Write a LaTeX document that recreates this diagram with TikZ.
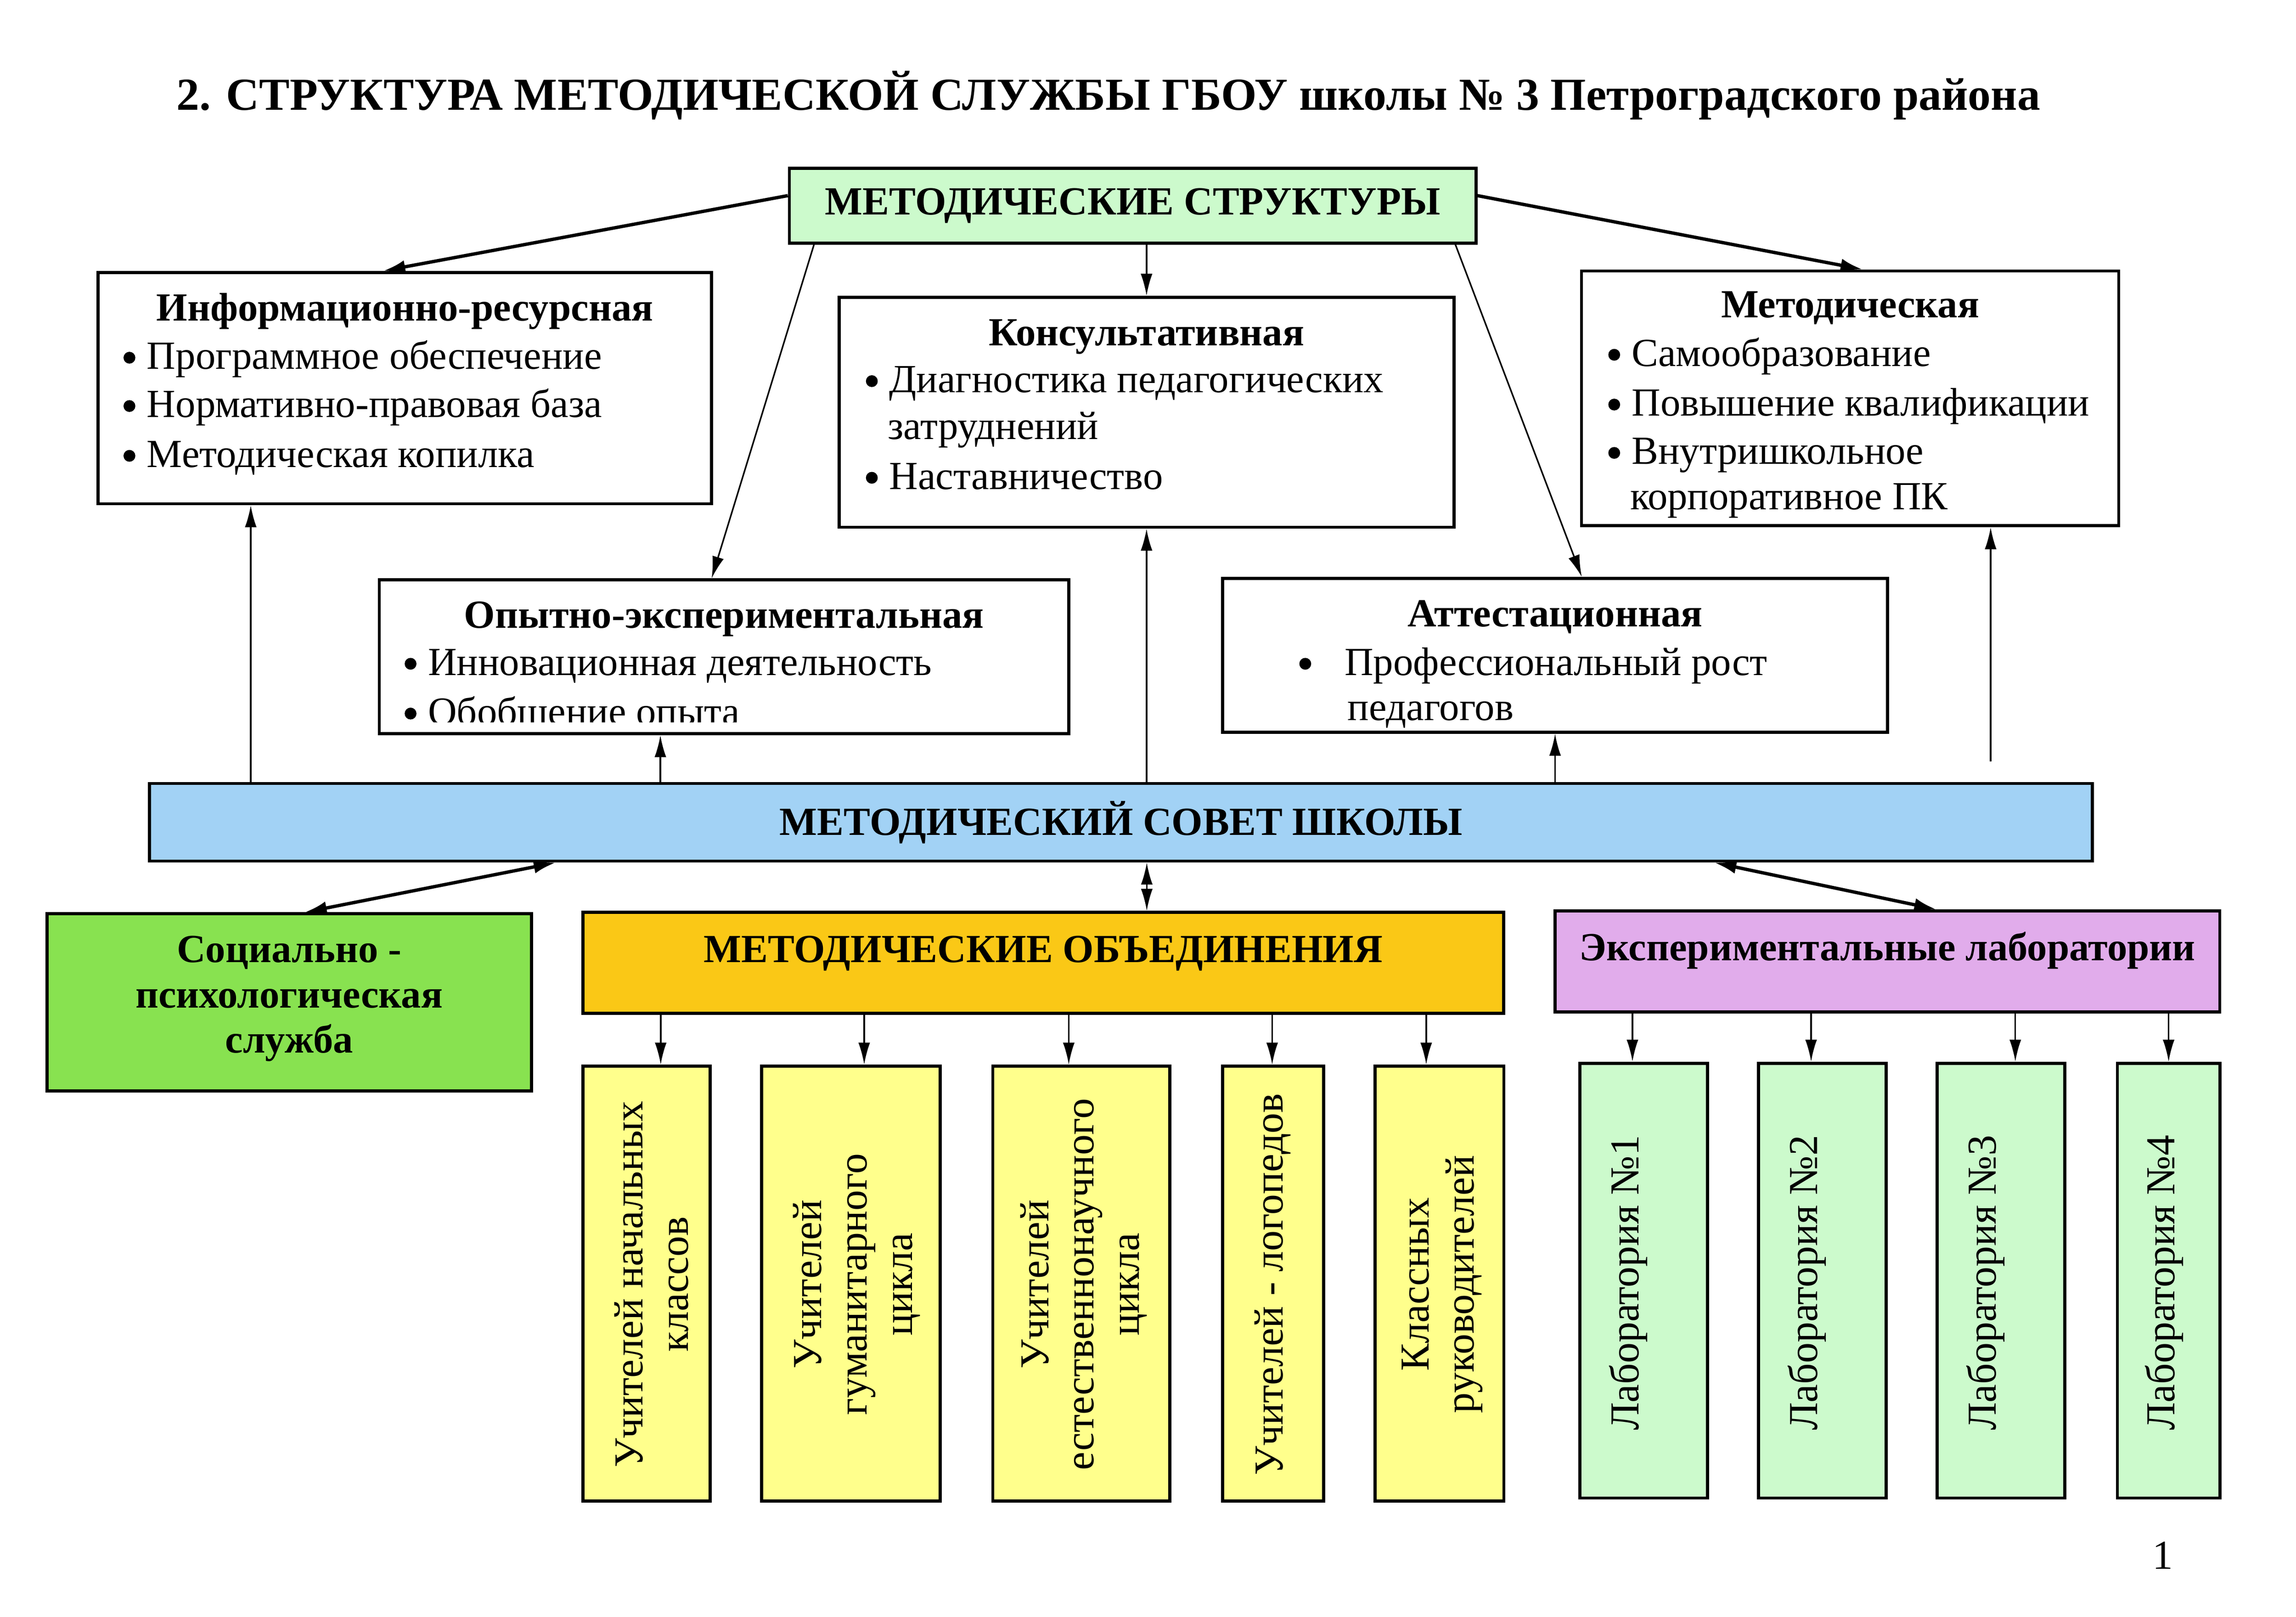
\documentclass[tikz,border=0pt]{standalone}
\usepackage{fontspec}
\setmainfont{Liberation Serif}
\usetikzlibrary{arrows.meta,calc}

\definecolor{mintgreen}{RGB}{204,250,204}
\definecolor{sovetblue}{RGB}{162,210,245}
\definecolor{socgreen}{RGB}{136,226,80}
\definecolor{moyellow}{RGB}{250,200,22}
\definecolor{labpink}{RGB}{225,172,235}
\definecolor{paleyellow}{RGB}{255,255,140}

\newcommand\bigbul{\tikz[baseline=0pt]\fill (2.3pt,4.4pt) circle (2.3pt);}
\newcommand\itm{\bigbul\hspace{4.5pt}}

\begin{document}
\begin{tikzpicture}[x=0.02cm, y=-0.02cm,
    box/.style={draw=black, line width=1.2pt, inner sep=0pt},
    head/.style={anchor=base, inner sep=0pt, font=\fontsize{15.5}{18}\selectfont\bfseries},
    item/.style={anchor=base west, inner sep=0pt, font=\fontsize{15.5}{18}\selectfont},
    vtext/.style={rotate=90, align=center, inner sep=0pt, font=\fontsize{16}{17.6}\selectfont},
    thin/.style={line width=0.6pt, -{Latex[length=0.3cm,width=0.16cm]}},
    thick/.style={line width=1.3pt, -{Latex[length=0.3cm,width=0.18cm]}},
    both/.style={line width=1.3pt, {Latex[length=0.3cm,width=0.18cm]}-{Latex[length=0.3cm,width=0.18cm]}}
]
\useasboundingbox (0,0) rectangle (1568,1104);

% title
\node[anchor=base, inner sep=0pt, font=\fontsize{17.8}{21}\selectfont\bfseries] (title) at (757,75)
    {2. СТРУКТУРА МЕТОДИЧЕСКОЙ СЛУЖБЫ ГБОУ школы № 3 Петроградского района};

% top box
\node[box, fill=mintgreen, minimum width=9.38cm, minimum height=1.02cm,
      font=\fontsize{15.5}{18}\selectfont\bfseries] (struct) at (773.5,140.5) {МЕТОДИЧЕСКИЕ СТРУКТУРЫ};

% white boxes
\node[box, minimum width=8.38cm, minimum height=3.16cm] (info) at (276.5,265) {};
\node[head] (infohead) at (276.5,219) {Информационно-ресурсная};
\node[item] (info1) at (84,252) {\itm Программное обеспечение};
\node[item] (info2) at (84,285) {\itm Нормативно-правовая база};
\node[item] (info3) at (84,319) {\itm Методическая копилка};

\node[box, minimum width=8.4cm, minimum height=3.14cm] (konsult) at (783,281.5) {};
\node[head] (konsulthead) at (783,236) {Консультативная};
\node[item] (konsult1) at (591,268) {\itm Диагностика педагогических};
\node[item] (konsult2) at (606,300) {затруднений};
\node[item] (konsult3) at (591,334) {\itm Наставничество};

\node[box, minimum width=7.34cm, minimum height=3.48cm] (metod) at (1263.5,272) {};
\node[head] (metodhead) at (1263.5,217) {Методическая};
\node[item] (metod1) at (1098,250) {\itm Самообразование};
\node[item] (metod2) at (1098,284) {\itm Повышение квалификации};
\node[item] (metod3) at (1098,317) {\itm Внутришкольное};
\node[item] (metod4) at (1113,348) {корпоративное ПК};

\node[box, minimum width=9.42cm, minimum height=2.1cm] (opyt) at (494.5,448.5) {};
\node[head] (opythead) at (494.5,429) {Опытно-экспериментальная};
\node[item] (opyt1) at (276,461) {\itm Инновационная деятельность};
\begin{scope}
\clip (259,396) rectangle (730,493);
\node[item] (opyt2) at (276,495) {\itm Обобщение опыта};
\end{scope}

\node[box, minimum width=9.08cm, minimum height=2.1cm] (attest) at (1062,447.5) {};
\node[head] (attesthead) at (1062,428) {Аттестационная};
\node[item] (attest1) at (887,461) {\bigbul\hspace{13pt}Профессиональный рост};
\node[item] (attest2) at (920,492) {педагогов};

% council
\node[box, fill=sovetblue, minimum width=26.54cm, minimum height=1.06cm,
      font=\fontsize{15.5}{18}\selectfont\bfseries] (sovet) at (765.5,561.5) {МЕТОДИЧЕСКИЙ СОВЕТ ШКОЛЫ};

% lower row
\node[box, fill=socgreen, minimum width=6.62cm, minimum height=2.42cm] (soc) at (197.5,684.5) {};
\node[align=center, inner sep=0pt, font=\fontsize{15.5}{17.6}\selectfont\bfseries] (soctext) at (197.5,682)
    {Социально -\\психологическая\\служба};

\node[box, fill=moyellow, minimum width=12.58cm, minimum height=1.38cm] (mo) at (712.5,657.5) {};
\node[head] (motext) at (712.5,657) {МЕТОДИЧЕСКИЕ ОБЪЕДИНЕНИЯ};

\node[box, fill=labpink, minimum width=9.08cm, minimum height=1.38cm] (lab) at (1289,656.5) {};
\node[head] (labtext) at (1289,656) {Экспериментальные лаборатории};

% methodical unions
\node[box, fill=paleyellow, minimum width=1.74cm, minimum height=5.94cm] (mo1) at (441.5,876.5) {};
\node[box, fill=paleyellow, minimum width=2.44cm, minimum height=5.94cm] (mo2) at (581,876.5) {};
\node[box, fill=paleyellow, minimum width=2.42cm, minimum height=5.94cm] (mo3) at (738.5,876.5) {};
\node[box, fill=paleyellow, minimum width=1.38cm, minimum height=5.94cm] (mo4) at (869.5,876.5) {};
\node[box, fill=paleyellow, minimum width=1.76cm, minimum height=5.94cm] (mo5) at (983,876.5) {};
\node[vtext] (mo1text) at (445,877) {Учителей начальных\\классов};
\node[vtext] (mo2text) at (585,877) {Учителей\\гуманитарного\\цикла};
\node[vtext] (mo3text) at (740,877) {Учителей\\естественнонаучного\\цикла};
\node[vtext] (mo4text) at (869,877) {Учителей - логопедов};
\node[vtext] (mo5text) at (985,877) {Классных\\руководителей};

% laboratories
\node[box, fill=mintgreen, minimum width=1.74cm, minimum height=5.94cm] (lab1) at (1122.5,874.5) {};
\node[box, fill=mintgreen, minimum width=1.74cm, minimum height=5.94cm] (lab2) at (1244.5,874.5) {};
\node[box, fill=mintgreen, minimum width=1.74cm, minimum height=5.94cm] (lab3) at (1366.5,874.5) {};
\node[box, fill=mintgreen, minimum width=1.4cm, minimum height=5.94cm] (lab4) at (1481,874.5) {};
\node[vtext] (lab1text) at (1112,876) {Лаборатория №1};
\node[vtext] (lab2text) at (1234,876) {Лаборатория №2};
\node[vtext] (lab3text) at (1356,876) {Лаборатория №3};
\node[vtext] (lab4text) at (1478,876) {Лаборатория №4};

% page number
\node[inner sep=0pt, font=\fontsize{16}{18}\selectfont] (page) at (1477,1062) {1};

% arrows from the top box
\draw[thick] ($(struct.north west)!0.37!(struct.south west)$) -- ($(info.north west)!0.465!(info.north east)$);
\draw[thick] ($(struct.north east)!0.37!(struct.south east)$) -- ($(metod.north west)!0.523!(metod.north east)$);
\draw[thin] (struct.south -| konsult.north) -- (konsult.north);
\draw[thin] ($(struct.south west)!0.038!(struct.south east)$) -- ($(opyt.north west)!0.482!(opyt.north east)$);
\draw[thin] ($(struct.south west)!0.968!(struct.south east)$) -- ($(attest.north west)!0.54!(attest.north east)$);

% arrows up from the council
\coordinate (infoin) at ($(info.south west)!0.25!(info.south east)$);
\coordinate (opytin) at ($(opyt.south west)!0.408!(opyt.south east)$);
\coordinate (metodin) at ($(metod.south west)!0.76!(metod.south east)$);
\coordinate (metodout) at ($(metodin |- sovet.north)+(0,-14)$);
\draw[thin] (infoin |- sovet.north) -- (infoin);
\draw[thin] (opytin |- sovet.north) -- (opytin);
\draw[thin] (konsult.south |- sovet.north) -- (konsult.south);
\draw[thin] (attest.south |- sovet.north) -- (attest.south);
\draw[thin] (metodout) -- (metodin);

% council to the lower row
\draw[both] ($(sovet.south west)!0.2095!(sovet.south east)$) -- ($(soc.north west)!0.532!(soc.north east)$);
\coordinate (moin) at ($(mo.north west)!0.612!(mo.north east)$);
\draw[line width=0.6pt, {Latex[length=0.3cm,width=0.16cm]}-{Latex[length=0.3cm,width=0.16cm]}] (moin |- sovet.south) -- (moin);
\draw[both] ($(sovet.south west)!0.805!(sovet.south east)$) -- ($(lab.north west)!0.573!(lab.north east)$);

% unions and laboratories down
\coordinate (mo1in) at ($(mo1.north west)!0.609!(mo1.north east)$);
\coordinate (mo2in) at ($(mo2.north west)!0.574!(mo2.north east)$);
\coordinate (mo3in) at ($(mo3.north west)!0.43!(mo3.north east)$);
\coordinate (mo4in) at ($(mo4.north west)!0.49!(mo4.north east)$);
\coordinate (mo5in) at ($(mo5.north west)!0.40!(mo5.north east)$);
\draw[thin] (mo1in |- mo.south) -- (mo1in);
\draw[thin] (mo2in |- mo.south) -- (mo2in);
\draw[thin] (mo3in |- mo.south) -- (mo3in);
\draw[thin] (mo4in |- mo.south) -- (mo4in);
\draw[thin] (mo5in |- mo.south) -- (mo5in);
\coordinate (lab1in) at ($(lab1.north west)!0.414!(lab1.north east)$);
\coordinate (lab2in) at ($(lab2.north west)!0.414!(lab2.north east)$);
\coordinate (lab3in) at ($(lab3.north west)!0.61!(lab3.north east)$);
\coordinate (lab4in) at ($(lab4.north west)!0.5!(lab4.north east)$);
\draw[thin] (lab1in |- lab.south) -- (lab1in);
\draw[thin] (lab2in |- lab.south) -- (lab2in);
\draw[thin] (lab3in |- lab.south) -- (lab3in);
\draw[thin] (lab4in |- lab.south) -- (lab4in);
\end{tikzpicture}
\end{document}
